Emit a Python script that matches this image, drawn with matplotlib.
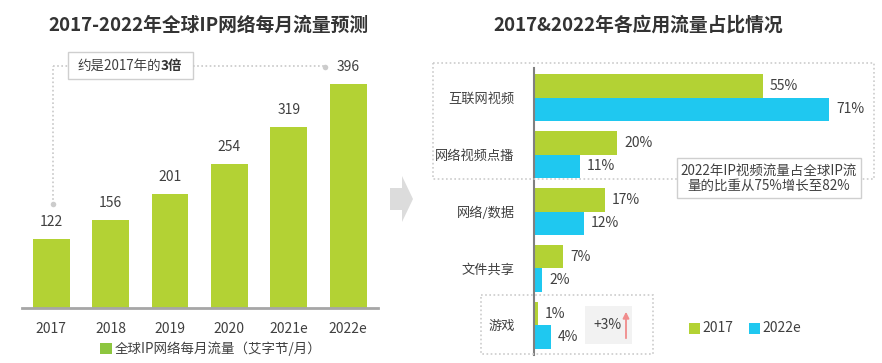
import numpy as np
import matplotlib
matplotlib.use("Agg")
from matplotlib import pyplot as plt
from matplotlib.patches import Rectangle, Polygon

plt.rcParams['font.family'] = ['Noto Sans CJK SC', 'DejaVu Sans']

# left chart data
years = ["2017", "2018", "2019", "2020", "2021e", "2022e"]
traffic = [122, 156, 201, 254, 319, 396]

# right chart data
apps = ["互联网视频", "网络视频点播", "网络/数据", "文件共享", "游戏"]
share_2017 = [55, 20, 17, 7, 1]
share_2022 = [71, 11, 12, 2, 4]

GREEN = "#b3d234"
BLUE = "#1fc8f0"
TXT = "#404040"
W, H = 882, 363


def box(x0, y0, x1, y1):
    # pixel box -> figure coords
    return [x0 / W, 1 - y1 / H, (x1 - x0) / W, (y1 - y0) / H]


fig = plt.figure(figsize=(8.82, 3.63), dpi=100)

# ---- left bar chart
ax1 = fig.add_axes(box(22, 40, 378, 308))
x = np.arange(len(years))
ax1.bar(x, traffic, width=0.62, color=GREEN)
for xi, v in zip(x, traffic):
    ax1.text(xi, v + 30, str(v), ha='center', va='center', fontsize=10, color=TXT)
ax1.set_xlim(-0.49, 5.5)
ax1.set_ylim(0, 473)
ax1.set_xticks(x)
ax1.set_xticklabels(years, fontsize=10, color=TXT)
ax1.tick_params(axis='x', length=0, pad=10)
ax1.set_yticks([])
for s in ['top', 'right', 'left']:
    ax1.spines[s].set_visible(False)
ax1.spines['bottom'].set_color('#a6a6a6')
ax1.spines['bottom'].set_linewidth(2)

# ---- right horizontal bars
ax2 = fig.add_axes(box(534, 68, 874, 355))
y = np.arange(len(apps))
bh = 0.41
ax2.barh(y - bh / 2, share_2017, height=bh, color=GREEN, label="2017")
ax2.barh(y + bh / 2, share_2022, height=bh, color=BLUE, label="2022e")
for yi, a, b in zip(y, share_2017, share_2022):
    ax2.text(a + 1.7, yi - bh / 2, f"{a}%", va='center', fontsize=10, color=TXT)
    ax2.text(b + 1.7, yi + bh / 2, f"{b}%", va='center', fontsize=10, color=TXT)
ax2.set_xlim(0, 81.7)
ax2.set_ylim(4.52, -0.52)
ax2.set_yticks(y)
ax2.set_yticklabels(apps, fontsize=9.5, color=TXT)
ax2.tick_params(axis='y', length=0, pad=14)
ax2.set_xticks([])
for s in ['top', 'right', 'bottom']:
    ax2.spines[s].set_visible(False)
ax2.spines['left'].set_color('#808080')
ax2.spines['left'].set_linewidth(1.5)

# ---- overlay in pixel coords for annotations
ov = fig.add_axes([0, 0, 1, 1])
ov.set_xlim(0, W)
ov.set_ylim(H, 0)
ov.axis('off')

ov.text(208, 25, "2017-2022年全球IP网络每月流量预测", ha='center', va='center',
        fontsize=13.5, fontweight='bold', color='#333333')
ov.text(638, 25, "2017&2022年各应用流量占比情况", ha='center', va='center',
        fontsize=13.5, fontweight='bold', color='#333333')

# left legend
ov.add_patch(Rectangle((100, 343), 12, 11, color='#8dc63f', lw=0))
ov.text(115, 348.5, "全球IP网络每月流量（艾字节/月）", va='center', fontsize=9.7, color=TXT)

# 3x annotation
dot = dict(color='#c8c8c8', ls=(0, (1, 1.5)), lw=1.2)
ov.plot([53, 53], [204, 66], **dot)
ov.plot([53, 68], [66, 66], **dot)
ov.plot([193, 325], [66, 66], **dot)
ov.plot([53, 325], [204, 67], 'o', color='#cccccc', ms=4, mec='none')
ov.add_patch(Rectangle((68, 52), 125, 27, fc='white', ec='#cfcfcf', lw=1))
ov.text(77, 66, "约是2017年的", va='center', fontsize=9.7, color=TXT)
ov.text(161, 66, "3倍", va='center', fontsize=9.7, fontweight='bold', color='#333333')

# middle arrow
ov.add_patch(Polygon([(390, 188), (402, 188), (402, 176), (413, 199), (402, 222),
                      (402, 210), (390, 210)], closed=True, color='#dcdcdc', lw=0))

# dotted groups on right
ov.add_patch(Rectangle((433, 63), 441, 116, fill=False, ec='#cccccc', ls=(0, (1, 1.5)), lw=1.2))
ov.add_patch(Rectangle((481, 295), 172, 59, fill=False, ec='#cccccc', ls=(0, (1, 1.5)), lw=1.2))

# note box
ov.add_patch(Rectangle((677, 158), 184, 40, fc='white', ec='#cfcfcf', lw=1))
ov.text(769, 178, "2022年IP视频流量占全球IP流\n量的比重从75%增长至82%", ha='center',
        va='center', fontsize=9.7, color=TXT, linespacing=1.1)

# +3% box
ov.add_patch(Rectangle((585, 306), 47, 38, fc='#f2f2f2', ec='none'))
ov.text(607, 325, "+3%", ha='center', va='center', fontsize=10, color=TXT)
ov.annotate("", xy=(626, 309), xytext=(626, 341),
            arrowprops=dict(arrowstyle='-|>', color='#f08c8c', lw=1.3, mutation_scale=9))

# right legend
ov.add_patch(Rectangle((689, 323), 11, 11, color=GREEN, lw=0))
ov.text(702, 328.5, "2017", va='center', fontsize=10, color=TXT)
ov.add_patch(Rectangle((749, 323), 11, 11, color=BLUE, lw=0))
ov.text(762, 328.5, "2022e", va='center', fontsize=10, color=TXT)

fig.savefig("out.png", dpi=100)
